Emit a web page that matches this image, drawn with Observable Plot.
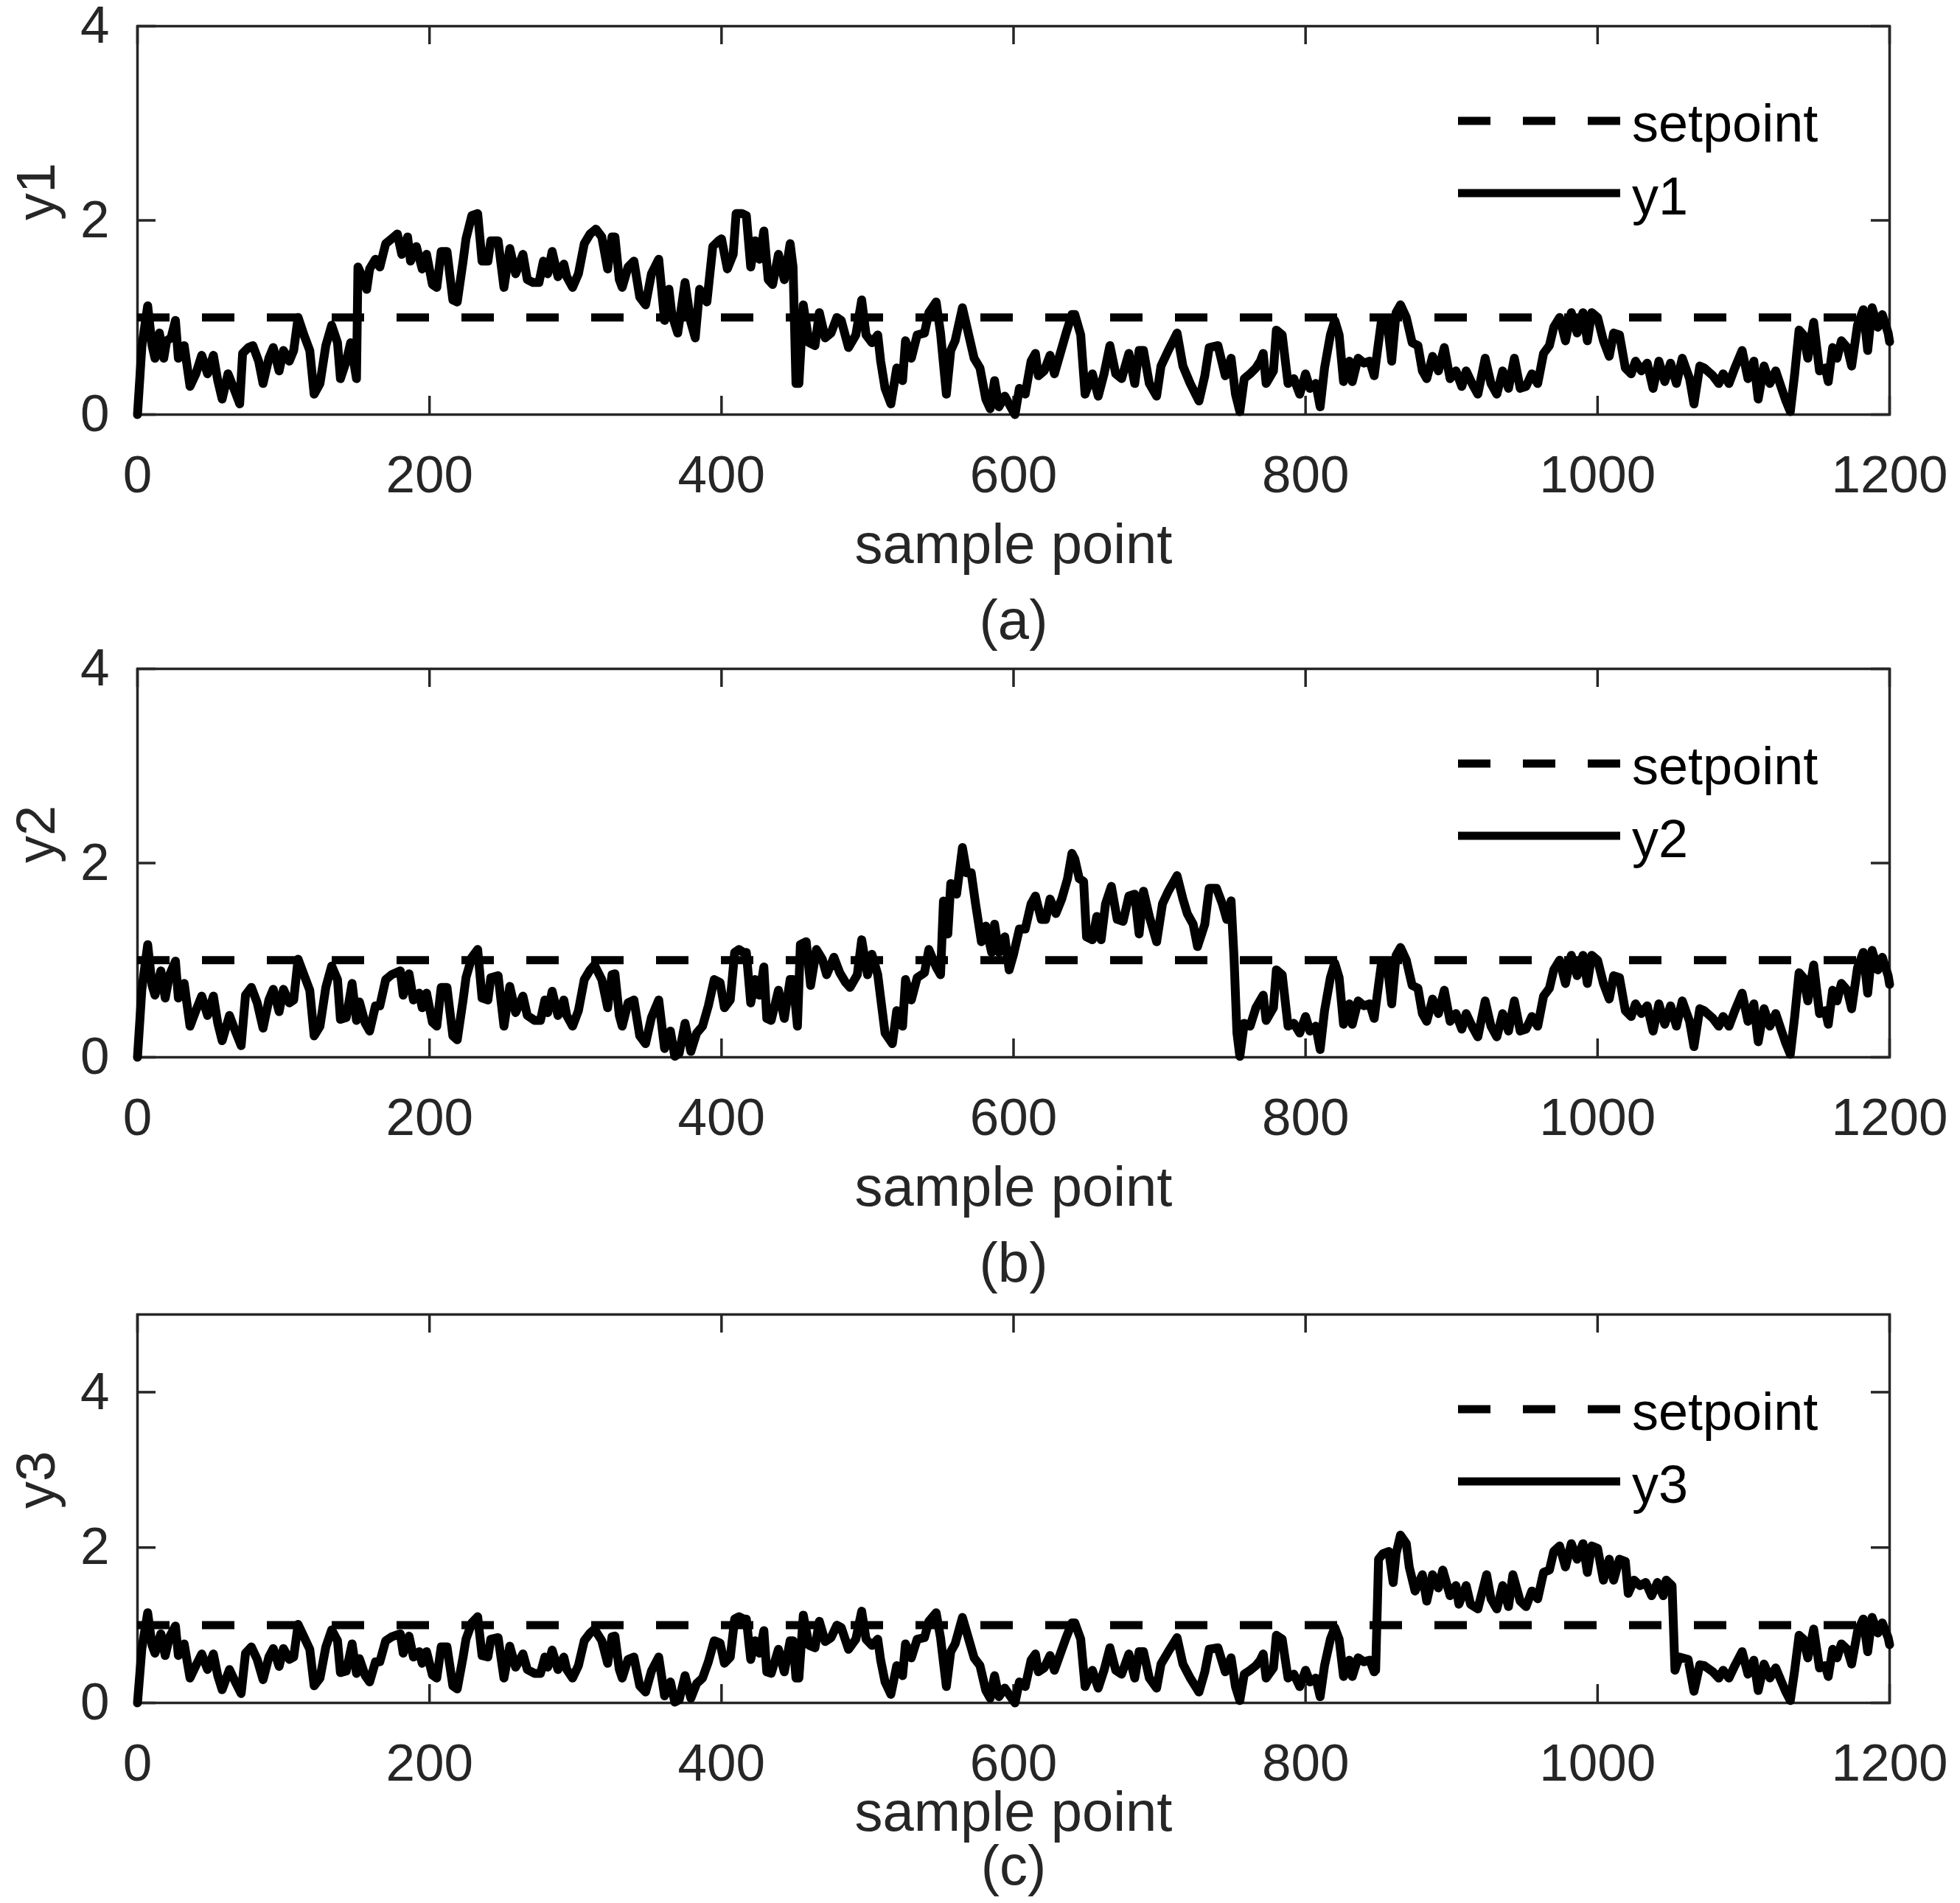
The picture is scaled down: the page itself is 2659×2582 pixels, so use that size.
<!DOCTYPE html>
<html>
<head>
<meta charset="utf-8">
<script src="https://cdn.jsdelivr.net/npm/d3@7"></script>
<script src="https://cdn.jsdelivr.net/npm/@observablehq/plot@0.6"></script>
<style>
  body { margin: 0; background: #fff; }
  #chart svg { display: block; }
</style>
</head>
<body>
<div id="chart"></div>
<script>
// ---------- data ----------
const xTicks = [0, 200, 400, 600, 800, 1000, 1200];
const yTicksA = [0, 2, 4];
const yTicksB = [0, 2, 4];
const yTicksC = [0, 2, 4];
const setpoint = [1];

// y1: [sample point, value]
const y1Points = [
[0,0],[3,0.7],[7,1.12],[10,0.71],[12,0.58],[15,0.84],[18,0.58],[20,0.76],[23,0.79],[26,0.97],[28,0.58],[32,0.71],[36,0.29],[40,0.42],[44,0.61],[48,0.42],[52,0.61],[55,0.35],[58,0.16],[62,0.42],[66,0.27],[70,0.11],[72,0.63],[76,0.69],[79,0.71],[83,0.55],[86,0.32],[90,0.58],[93,0.69],[97,0.45],[100,0.66],[104,0.55],[107,0.66],[110,1.0],[114,0.82],[118,0.66],[121,0.21],[125,0.32],[129,0.71],[133,0.92],[137,0.74],[139,0.37],[143,0.55],[146,0.74],[150,0.37],
[151,1.52],[154,1.42],[157,1.29],[159,1.50],[163,1.60],[166,1.52],[170,1.76],[174,1.81],[178,1.86],[181,1.65],[185,1.83],[187,1.58],[191,1.73],[195,1.50],[198,1.65],[202,1.34],[205,1.31],[208,1.68],[212,1.68],[216,1.18],[219,1.16],[223,1.58],[225,1.81],[229,2.05],[233,2.07],[236,1.58],[240,1.58],[242,1.79],[247,1.79],[251,1.31],[255,1.71],[259,1.45],[264,1.65],[267,1.39],[271,1.36],[275,1.36],[278,1.58],[281,1.45],[284,1.68],[288,1.42],[292,1.55],[294,1.42],[298,1.31],[302,1.45],[306,1.76],[310,1.86],[314,1.91],[318,1.83],[322,1.50],[325,1.83],[327,1.83],[330,1.39],[332,1.31],[336,1.52],[340,1.58],[344,1.21],[348,1.13],[352,1.45],[357,1.60],[361,0.97],[364,1.29],[366,1.03],[370,0.84],[375,1.36],[379,0.95],[382,0.79],[385,1.29],[390,1.16],[394,1.73],[398,1.79],[400,1.81],
[404,1.50],[408,1.65],[410,2.07],[414,2.07],[417,2.05],[420,1.52],[423,1.79],[426,1.60],[429,1.89],[432,1.39],[435,1.34],[439,1.65],[443,1.39],[447,1.76],[449,1.52],[451,0.32],[453,0.32],[456,1.13],[460,0.74],[464,0.71],[467,1.05],[471,0.79],[475,0.84],[479,1.0],[482,0.97],[487,0.69],[492,0.82],[496,1.18],[499,0.82],[503,0.74],[507,0.82],[509,0.55],[512,0.27],[516,0.11],[520,0.48],[524,0.35],[526,0.76],[530,0.58],[534,0.82],[539,0.84],[542,1.05],[547,1.16],[550,0.84],[554,0.21],[557,0.66],[560,0.76],[565,1.10],[569,0.84],[573,0.58],[577,0.48],[581,0.16],[584,0.06],[587,0.35],[590,0.08],[594,0.19],[598,0.08],[601,0.0],[604,0.27],[608,0.21],[612,0.55],[615,0.63],[617,0.40],[621,0.45],[625,0.61],[628,0.42],[632,0.63],[636,0.84],[640,1.03],[642,1.03],[646,0.82],[649,0.21],[654,0.42],[658,0.19],[662,0.42],[666,0.71],[670,0.42],[674,0.37],[679,0.63],[683,0.32],[686,0.66],[689,0.66],[693,0.32],[698,0.19],[701,0.50],[706,0.66],[712,0.84],[716,0.50],[721,0.32],[727,0.14],[731,0.40],[734,0.69],[740,0.71],[745,0.40],[749,0.58],[752,0.21],[755,0.03],[758,0.37],[762,0.42],[766,0.48],[769,0.55],[771,0.63],[773,0.32],[778,0.45],[780,0.87],[784,0.82],[788,0.32],[792,0.37],[796,0.21],[800,0.42],
[803,0.27],[807,0.32],[810,0.08],[813,0.48],[817,0.82],[820,0.97],[823,0.82],[826,0.34],[830,0.55],[832,0.34],[836,0.58],[840,0.53],[844,0.55],[847,0.40],[849,0.63],[852,0.97],[856,0.95],[859,0.55],[862,1.05],[865,1.13],[869,1.0],[873,0.74],[877,0.71],[880,0.45],[883,0.37],[887,0.60],[891,0.45],[895,0.69],[899,0.37],[903,0.45],[907,0.29],[910,0.45],[914,0.32],[918,0.21],[923,0.58],[927,0.32],[931,0.21],[935,0.45],[939,0.27],[943,0.58],[947,0.27],[951,0.29],[955,0.42],[959,0.32],[963,0.63],[967,0.71],[970,0.90],[974,1.0],[978,0.76],[982,1.05],[986,0.84],[990,1.05],[993,0.76],[996,1.05],[1000,1.0],[1004,0.76],[1008,0.60],[1011,0.84],[1015,0.82],[1019,0.48],[1023,0.42],[1026,0.55],[1030,0.45],[1034,0.53],[1038,0.27],[1042,0.55],[1046,0.34],[1050,0.53],[1054,0.32],[1058,0.58],[1063,0.37],[1066,0.11],[1070,0.50],
[1073,0.48],[1079,0.40],[1083,0.32],[1086,0.42],[1090,0.32],[1094,0.48],[1099,0.66],[1103,0.37],[1107,0.55],[1110,0.16],[1114,0.50],[1118,0.32],[1122,0.45],[1126,0.27],[1129,0.14],[1132,0.03],[1135,0.42],[1138,0.87],[1141,0.82],[1144,0.58],[1148,0.95],[1152,0.45],[1156,0.48],[1158,0.34],[1161,0.69],[1164,0.58],[1167,0.76],[1171,0.69],[1174,0.50],[1178,0.92],[1182,1.08],[1185,0.66],[1188,1.10],[1192,0.90],[1195,1.03],[1199,0.84],[1200,0.75]
];

// y2, samples 0-800 (after 800 the curve is the same as y1)
const y2Head = [
[0,0],[3,0.7],[7,1.16],[10,0.74],[12,0.64],[16,0.89],[19,0.61],[22,0.85],[26,0.99],[28,0.61],[32,0.76],[36,0.32],[40,0.48],[44,0.63],[48,0.43],[52,0.63],[55,0.35],[58,0.17],[63,0.43],[67,0.27],[71,0.12],[74,0.64],[78,0.72],[82,0.56],[86,0.30],[90,0.59],[93,0.70],[97,0.47],[100,0.70],[104,0.56],[107,0.59],[110,1.01],[114,0.85],[118,0.69],[121,0.22],[125,0.32],[129,0.72],[133,0.94],[137,0.80],[139,0.39],[143,0.41],[147,0.76],[150,0.38],
[152,0.57],[156,0.35],[159,0.27],[163,0.53],[166,0.53],[170,0.80],[174,0.85],[180,0.89],[182,0.64],[186,0.86],[189,0.59],[193,0.66],[195,0.51],[198,0.66],[202,0.36],[205,0.32],[208,0.72],[212,0.72],[216,0.22],[219,0.18],[223,0.59],[225,0.82],[229,1.03],[233,1.11],[236,0.61],[240,0.59],[242,0.82],[247,0.84],[251,0.32],[255,0.73],[259,0.46],[264,0.63],[267,0.43],[272,0.38],[276,0.38],[279,0.59],[281,0.46],[284,0.68],[288,0.43],[292,0.59],[294,0.43],[298,0.32],[302,0.48],[306,0.80],[310,0.90],[313,0.95],[318,0.80],[322,0.51],[325,0.85],[327,0.86],[330,0.43],[332,0.32],[336,0.56],[340,0.59],[344,0.22],[348,0.14],[352,0.41],[357,0.59],[361,0.09],[365,0.27],[368,0.01],[371,0.04],[375,0.35],[379,0.06],[383,0.25],[387,0.32],[391,0.53],[395,0.80],[399,0.77],
[402,0.51],[406,0.59],[409,1.08],[412,1.11],[415,1.08],[417,1.08],[420,0.56],[423,0.80],[426,0.64],[429,0.93],[431,0.40],[434,0.38],[439,0.69],[443,0.40],[447,0.80],[449,0.80],[452,0.32],[454,1.16],[458,1.19],[461,0.74],[465,1.11],[469,1.01],[472,0.85],[477,1.03],[481,0.87],[485,0.77],[488,0.72],[493,0.85],[496,1.21],[500,0.85],[503,1.06],[507,0.85],[509,0.61],[512,0.25],[517,0.14],[520,0.48],[524,0.32],[526,0.80],[530,0.59],[534,0.82],[539,0.87],[542,1.11],[547,0.93],[550,0.85],
[552,1.61],[555,1.27],[557,1.79],[561,1.68],[565,2.16],[568,1.90],[571,1.90],[574,1.58],[578,1.19],[581,1.35],[585,1.08],[587,1.37],[590,1.08],[594,1.24],[597,0.90],[600,1.06],[604,1.32],[608,1.32],[612,1.58],[615,1.66],[619,1.42],[622,1.42],[625,1.63],[629,1.48],[633,1.63],[637,1.84],[640,2.10],[642,2.04],[645,1.84],[648,1.81],[650,1.24],[654,1.21],[657,1.45],[660,1.21],[663,1.58],[667,1.76],[671,1.42],[675,1.40],[679,1.66],[683,1.68],[686,1.27],[689,1.71],[693,1.45],[698,1.19],[702,1.58],[706,1.71],[712,1.87],[716,1.63],[719,1.48],[723,1.37],[726,1.14],[731,1.37],[734,1.74],[739,1.74],[743,1.58],[746,1.42],[749,1.61],[751,1.03],
[753,0.25],[755,0.01],[758,0.35],[762,0.32],[766,0.51],[771,0.64],[773,0.38],[778,0.51],[780,0.90],[784,0.85],[788,0.32],[792,0.35],[796,0.25],[800,0.42]
];

// y3, samples 848-1070 (the raised part); elsewhere it follows the curves above
const y3Mid = [
[848,0.42],[850,1.85],[853,1.92],[857,1.95],[860,1.55],[862,1.92],[865,2.16],[869,2.05],[871,1.75],[875,1.44],[880,1.65],[883,1.31],[887,1.65],[891,1.48],[894,1.71],[899,1.38],[903,1.51],[905,1.27],[910,1.51],[913,1.27],[918,1.21],[924,1.65],[927,1.34],[931,1.21],[935,1.51],[939,1.24],[942,1.65],[947,1.31],[951,1.24],[955,1.44],[959,1.34],[963,1.68],[967,1.71],[970,1.95],[974,2.02],[978,1.75],[982,2.05],[986,1.85],[990,2.05],[993,1.68],[996,2.02],[1000,1.99],[1004,1.58],[1008,1.85],[1011,1.58],[1015,1.85],[1019,1.82],[1021,1.41],[1025,1.58],[1029,1.51],[1033,1.55],[1037,1.38],[1041,1.55],[1045,1.38],[1047,1.58],[1051,1.51],[1053,0.42],[1056,0.59],[1062,0.56],[1066,0.15],[1070,0.49]
];

const y2Points = [...y2Head, ...y1Points.filter(p => p[0] >= 803)];
const y3Points = [
  ...y2Head.filter(p => p[0] <= 449),
  ...y1Points.filter(p => p[0] >= 451 && p[0] <= 847),
  ...y3Mid,
  ...y1Points.filter(p => p[0] >= 1073)
];

// ---------- drawing ----------
const W = 2659, ML = 186, MR = 96, MT = 35, PH = 527, PW = W - ML - MR, TICK = 25;
const FONT = '"Liberation Sans", Arial, Helvetica, sans-serif';
const AX = "#262626";

function panel({points, name, caption, yMax, yTicks, height, labelDy, captionDy}) {
  const svg = Plot.plot({
    width: W, height,
    marginTop: MT, marginLeft: ML, marginRight: MR, marginBottom: height - MT - PH,
    style: {fontFamily: FONT, color: AX, background: "#fff", overflow: "visible"},
    x: {domain: [0, 1200]},
    y: {domain: [0, yMax]},
    marks: [
      Plot.frame({stroke: AX, strokeWidth: 3.5}),
      Plot.ruleX(xTicks, {x: d => d, insetTop: PH - TICK, stroke: AX, strokeWidth: 3.5}),
      Plot.ruleX(xTicks, {x: d => d, insetBottom: PH - TICK, stroke: AX, strokeWidth: 3.5}),
      Plot.ruleY(yTicks, {y: d => d, insetRight: PW - TICK, stroke: AX, strokeWidth: 3.5}),
      Plot.ruleY(yTicks, {y: d => d, insetLeft: PW - TICK, stroke: AX, strokeWidth: 3.5}),
      Plot.ruleY(setpoint, {y: d => d, stroke: "#000", strokeWidth: 11, strokeDasharray: "44,44"}),
      Plot.line(points, {x: d => d[0], y: d => d[1], stroke: "#000", strokeWidth: 12, strokeLinejoin: "round", strokeLinecap: "round"}),
      Plot.axisX(xTicks, {anchor: "bottom", tickSize: 0, tickPadding: 55, fontSize: 71, tickFormat: "d", label: null}),
      Plot.axisY(yTicks, {anchor: "left", tickSize: 0, tickPadding: 38, fontSize: 71, tickFormat: "d", label: null}),
      Plot.text(["sample point"], {text: d => d, frameAnchor: "bottom", dy: labelDy, lineAnchor: "bottom", fontSize: 76, fill: AX}),
      Plot.text([caption], {text: d => d, frameAnchor: "bottom", dy: captionDy, lineAnchor: "bottom", fontSize: 76, fill: AX}),
      Plot.text([name], {text: d => d, frameAnchor: "left", dx: -136, rotate: -90, fontSize: 74, fill: AX})
    ]
  });
  // legend (inside the axes, top right)
  const g = d3.select(svg).append("g")
    .attr("font-family", FONT).attr("font-size", 72).attr("fill", "#000")
    .attr("text-anchor", "start");
  const R = W - MR;
  const lx0 = R - 585, lx1 = R - 365, tx = R - 349;
  const ySet = MT + 129, yLine = MT + 227;
  g.append("line").attr("x1", lx0).attr("x2", lx1).attr("y1", ySet).attr("y2", ySet)
    .attr("stroke", "#000").attr("stroke-width", 11).attr("stroke-dasharray", "44,44");
  g.append("line").attr("x1", lx0).attr("x2", lx1).attr("y1", yLine).attr("y2", yLine)
    .attr("stroke", "#000").attr("stroke-width", 11);
  g.append("text").attr("x", tx).attr("y", ySet + 28).attr("text-anchor", "start").text("setpoint");
  g.append("text").attr("x", tx).attr("y", yLine + 29).attr("text-anchor", "start").text(name);
  return svg;
}

const chart = document.getElementById("chart");
chart.append(panel({points: y1Points, name: "y1", caption: "(a)", yMax: 4, yTicks: yTicksA, height: 872, labelDy: 201, captionDy: 304}));
chart.append(panel({points: y2Points, name: "y2", caption: "(b)", yMax: 4, yTicks: yTicksB, height: 876, labelDy: 201, captionDy: 304}));
chart.append(panel({points: y3Points, name: "y3", caption: "(c)", yMax: 5, yTicks: yTicksC, height: 834, labelDy: 173, captionDy: 246}));
</script>
</body>
</html>
